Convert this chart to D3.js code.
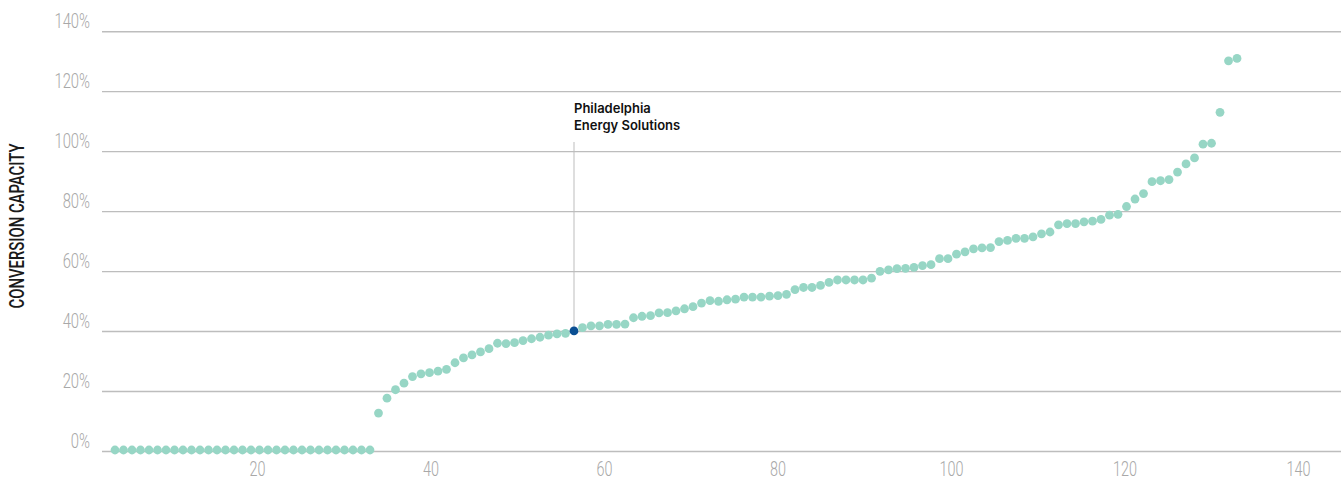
<!DOCTYPE html>
<html><head><meta charset="utf-8">
<script src="https://cdn.jsdelivr.net/npm/d3@7/dist/d3.min.js"></script>
<style>
html,body{margin:0;padding:0;background:#fff;}
svg{display:block;}
</style></head>
<body>
<svg id="chart" width="1341" height="483"></svg>
<script>
// ---- data ----
const conversionCapacity = [
  0.5,0.5,0.5,0.5,0.5,0.5,0.5,0.5,0.5,0.5,
  0.5,0.5,0.5,0.5,0.5,0.5,0.5,0.5,0.5,0.5,
  0.5,0.5,0.5,0.5,0.5,0.5,0.5,0.5,0.5,0.5,
  0.5,12.8,17.8,20.6,22.8,25.0,25.9,26.3,26.8,27.4,
  29.6,31.2,32.2,33.2,34.3,36.1,36.0,36.3,37.0,37.6,
  38.1,38.8,39.2,39.4,40.2,41.3,41.9,41.9,42.4,42.4,
  42.5,44.6,45.1,45.3,46.2,46.3,46.9,47.6,48.3,49.5,
  50.3,50.1,50.6,50.8,51.5,51.5,51.5,51.8,52.0,52.4,
  54.0,54.7,54.7,55.4,56.4,57.2,57.2,57.2,57.2,57.8,
  60.1,60.6,61.0,61.1,61.4,62.0,62.3,64.3,64.3,65.8,
  66.6,67.6,67.9,68.0,70.0,70.4,71.1,71.1,71.6,72.6,
  73.2,75.6,76.0,76.0,76.6,76.8,77.4,78.8,79.1,81.7,
  84.2,86.0,90.0,90.3,90.7,93.2,95.9,97.9,102.5,102.8,
  113.1,130.3,131.1
];
const rankExtentOnAxis = [3.63, 132.97]; // axis positions of first and last refinery
const highlightIndex = 54;               // Philadelphia Energy Solutions
const highlightLabel = ["Philadelphia", "Energy Solutions"];
const yTicks = [0, 20, 40, 60, 80, 100, 120, 140];
const xTicks = [20, 40, 60, 80, 100, 120, 140];
const yTitle = "CONVERSION CAPACITY";

// ---- layout ----
const W = 1341, H = 483;
const svg = d3.select("#chart");
const x = d3.scaleLinear().domain([0, 140]).range([83.5, 1298]);
const y = d3.scaleLinear().domain([0, 140]).range([451.5, 31.7]);
const rank = d3.scaleLinear()
  .domain([0, conversionCapacity.length - 1])
  .range(rankExtentOnAxis.map(x));
const gridLeft = 102;
const labelFont = "Roboto, 'Noto Sans', sans-serif";

// gridlines
svg.append("g").selectAll("line").data(yTicks).join("line")
  .attr("x1", gridLeft).attr("x2", W)
  .attr("y1", d => y(d)).attr("y2", d => y(d))
  .attr("stroke", "#bdbdbd").attr("stroke-width", 1.4);

// y tick labels
const yAxis = d3.axisLeft(y).tickValues(yTicks).tickFormat(d => d + "%").tickSize(0);
const gy = svg.append("g").attr("transform", "translate(90,0)").call(yAxis);
gy.select(".domain").remove();
gy.selectAll("text")
  .attr("x", 0).attr("dy", "-0.22em")
  .attr("transform", "scale(0.74,1)")
  .attr("font-family", labelFont).attr("font-weight", 300)
  .attr("font-size", 20).attr("fill", "#a8a8a8").attr("text-anchor", "end");

// x tick labels
const xAxis = d3.axisBottom(x).tickValues(xTicks).tickFormat(d3.format("d")).tickSize(0);
const gx = svg.append("g").attr("transform", "translate(0,462)").call(xAxis);
gx.select(".domain").remove();
gx.selectAll("text")
  .attr("y", 0).attr("dy", "0.72em")
  .attr("transform", "scale(0.72,1)")
  .attr("font-family", labelFont).attr("font-weight", 300)
  .attr("font-size", 20).attr("fill", "#a8a8a8");

// y title
svg.append("text")
  .attr("transform", "translate(16.5,226) rotate(-90)")
  .attr("text-anchor", "middle").attr("dominant-baseline", "central")
  .attr("font-family", labelFont).attr("font-weight", 500)
  .attr("font-size", 21).attr("fill", "#1a1a1a")
  .attr("textLength", 165).attr("lengthAdjust", "spacingAndGlyphs")
  .text(yTitle);

// annotation leader
const hx = rank(highlightIndex);
svg.append("line")
  .attr("x1", hx).attr("x2", hx)
  .attr("y1", 142).attr("y2", y(conversionCapacity[highlightIndex]))
  .attr("stroke", "#bdbdbd").attr("stroke-width", 1);

// dots
svg.append("g").selectAll("circle").data(conversionCapacity).join("circle")
  .attr("cx", (d, i) => rank(i))
  .attr("cy", d => y(d))
  .attr("r", 4.4)
  .attr("fill", (d, i) => i === highlightIndex ? "#0b4f93" : "#97d6c5");

// annotation text
const t = svg.append("text")
  .attr("x", hx).attr("y", 113)
  .attr("font-family", "Inter, 'Noto Sans', sans-serif")
  .attr("font-size", 13).attr("font-weight", 600).attr("fill", "#111");
highlightLabel.forEach((s, i) => {
  t.append("tspan").attr("x", hx).attr("dy", i === 0 ? 0 : 17).text(s);
});
</script>
</body></html>
